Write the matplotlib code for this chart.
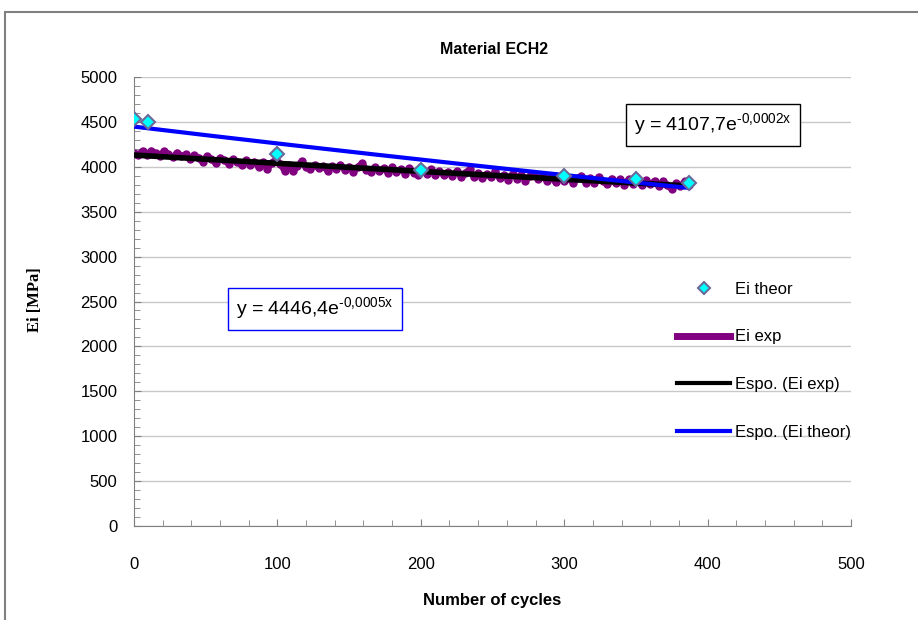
import numpy as np
import matplotlib
matplotlib.use("Agg")
import matplotlib.pyplot as plt
from matplotlib.patches import Rectangle
from matplotlib.lines import Line2D
import matplotlib.ticker as ticker

plt.rcParams['font.family'] = ['Liberation Sans', 'DejaVu Sans']
plt.rcParams['mathtext.fontset'] = 'custom'
plt.rcParams['mathtext.rm'] = 'Liberation Sans'

# Ei theor (diamonds)
theor_x = [0, 10, 100, 200, 300, 350, 387]
theor_y = [4532, 4499, 4143, 3964, 3898, 3864, 3820]

# Ei exp (measured, every 3 cycles)
exp_x = list(range(0, 390, 3))
exp_y = [4159, 4136, 4178, 4128, 4180, 4154, 4120, 4177, 4139, 4105,
         4158, 4119, 4137, 4086, 4132, 4101, 4055, 4120, 4082, 4043,
         4101, 4075, 4032, 4085, 4059, 4020, 4073, 4015, 4057, 3994,
         4052, 3973, 4047, 4080, 4034, 3955, 4021, 3950, 4008, 4065,
         3995, 3972, 4022, 3983, 4009, 3954, 4004, 3981, 4023, 3968,
         4002, 3947, 3997, 4038, 3968, 3945, 3995, 3956, 3982, 3935,
         3993, 3946, 3972, 3925, 3983, 3936, 3914, 3955, 3925, 3974,
         3912, 3953, 3907, 3945, 3894, 3951, 3889, 3930, 3972, 3885,
         3927, 3872, 3922, 3883, 3949, 3870, 3912, 3857, 3923, 3868,
         3910, 3847, 3897, 3922, 3860, 3901, 3839, 3888, 3826, 3883,
         3837, 3878, 3824, 3873, 3899, 3820, 3870, 3815, 3889, 3842,
         3804, 3869, 3815, 3864, 3802, 3859, 3813, 3854, 3792, 3849,
         3803, 3844, 3782, 3839, 3793, 3754, 3820, 3781, 3839, 3800]

legend_labels = ['Ei theor', 'Ei exp', 'Espo. (Ei exp)', 'Espo. (Ei theor)']
eq_theor = r'y = 4446,4e$^{\mathregular{‐0{,}0005x}}$'
eq_exp = r'y = 4107,7e$^{\mathregular{‐0{,}0002x}}$'


def expo_fit(x, y):
    # exponential trendline like Excel: fit ln(y) linear in x
    b, a = np.polyfit(np.array(x, float), np.log(np.array(y, float)), 1)
    xs = np.linspace(min(x), max(x), 200)
    return xs, np.exp(a) * np.exp(b * xs)


fig = plt.figure(figsize=(9.18, 6.2), dpi=100)
ax = fig.add_axes([134/918, 1-526/620, (851-134)/918, (526-77)/620])

# outer chart border
fig.patches.append(Rectangle((5/918, -0.1), 1.2, 1.1-12/620, transform=fig.transFigure,
                             fill=False, edgecolor='#808080', linewidth=1.5))

ax.plot(exp_x, exp_y, color='#800080', linewidth=4.5, marker='o', markersize=5,
        solid_capstyle='round', solid_joinstyle='round', zorder=2)
fx, fy = expo_fit(exp_x, exp_y)
ax.plot(fx, fy, color='black', linewidth=4, zorder=3)
tx, ty = expo_fit(theor_x, theor_y)
ax.plot(tx, ty, color='#0000ff', linewidth=3, zorder=4)
ax.plot(theor_x, theor_y, linestyle='none', marker='D', markersize=7.5,
        markerfacecolor='#00ffff', markeredgecolor='#6a6a9a', markeredgewidth=1.5, zorder=5)

ax.set_xlim(0, 500)
ax.set_ylim(0, 5000)
ax.xaxis.set_major_locator(ticker.MultipleLocator(100))
ax.xaxis.set_minor_locator(ticker.MultipleLocator(20))
ax.yaxis.set_major_locator(ticker.MultipleLocator(500))
ax.yaxis.set_minor_locator(ticker.MultipleLocator(100))
ax.tick_params(which='both', direction='in', color='#808080', labelsize=12)
ax.tick_params(which='major', length=5)
ax.tick_params(which='minor', length=4)
ax.tick_params(axis='x', pad=22)
ax.tick_params(axis='y', pad=12)
ax.grid(axis='y', which='major', color='#c8c8c8', linewidth=1)
ax.set_axisbelow(True)
for s in ['top', 'right']:
    ax.spines[s].set_visible(False)
for s in ['left', 'bottom']:
    ax.spines[s].set_color('#808080')

fig.text(494/918, 1-50/620, 'Material ECH2', ha='center', va='center',
         fontsize=11.5, fontweight='bold')
fig.text(492/918, 1-601/620, 'Number of cycles', ha='center', va='center',
         fontsize=12, fontweight='bold')
fig.text(35/918, 1-300/620, 'Ei [MPa]', ha='center', va='center', rotation=90,
         fontsize=12, fontweight='bold', family='Liberation Serif')

fig.text(315/918, 1-309/620, eq_theor, ha='center', va='center', fontsize=14,
         bbox=dict(boxstyle='square,pad=0.4', facecolor='white', edgecolor='#0000ff', linewidth=1))
fig.text(713/918, 1-125/620, eq_exp, ha='center', va='center', fontsize=14,
         bbox=dict(boxstyle='square,pad=0.4', facecolor='white', edgecolor='black', linewidth=1))

handles = [
    Line2D([], [], linestyle='none', marker='D', markersize=6.5, markerfacecolor='#00ffff',
           markeredgecolor='#6a6a9a', markeredgewidth=1.5),
    Line2D([], [], color='#800080', linewidth=5),
    Line2D([], [], color='black', linewidth=3),
    Line2D([], [], color='#0000ff', linewidth=3),
]
fig.legend(handles, legend_labels, loc='upper left', bbox_to_anchor=(677/918, 1-282/620),
           frameon=False, fontsize=12, handlelength=3.2, handletextpad=0.3,
           labelspacing=1.95, numpoints=1, borderaxespad=0, borderpad=0)

fig.savefig('out.png', dpi=100)
